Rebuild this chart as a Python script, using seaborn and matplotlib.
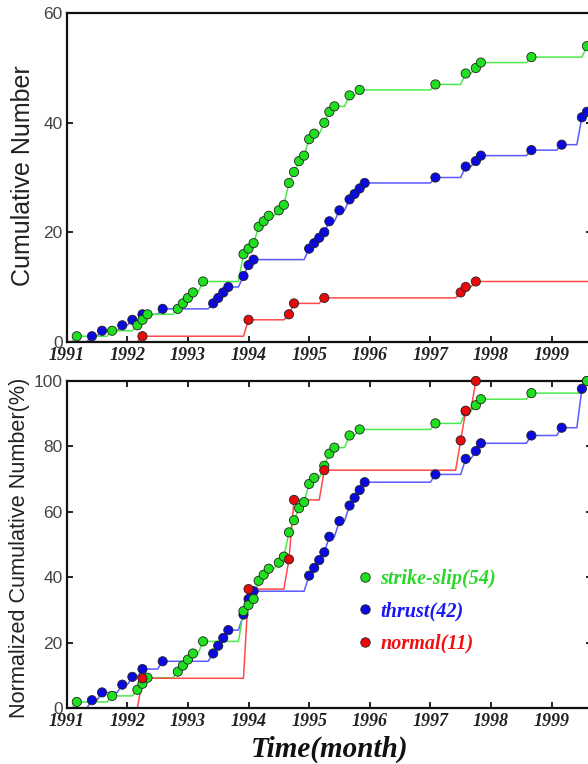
import numpy as np
import pandas as pd
import matplotlib
matplotlib.use('Agg')
import matplotlib.pyplot as plt
import seaborn as sns
from matplotlib.lines import Line2D

# months counted from Jan 1991 (0 = 1991.0) where the cumulative count steps up
SS_MONTHS = [2, 9, 14, 15, 16, 22, 23, 24, 25, 27, 35, 36, 37, 38, 39, 40, 42, 43,
             44, 45, 46, 47, 48, 49, 51, 52, 53, 56, 58, 73, 79, 81, 82, 92, 103]
SS_COUNTS = [1, 2, 3, 4, 5, 6, 7, 8, 9, 11, 16, 17, 18, 21, 22, 23, 24, 25,
             29, 31, 33, 34, 37, 38, 40, 42, 43, 45, 46, 47, 49, 50, 51, 52, 54]

TH_MONTHS = [5, 7, 11, 13, 15, 19, 29, 30, 31, 32, 35, 36, 37, 48, 49, 50, 51, 52,
             54, 56, 57, 58, 59, 73, 79, 81, 82, 92, 98, 102, 103]
TH_COUNTS = [1, 2, 3, 4, 5, 6, 7, 8, 9, 10, 12, 14, 15, 17, 18, 19, 20, 22,
             24, 26, 27, 28, 29, 30, 32, 33, 34, 35, 36, 41, 42]

NO_MONTHS = [15, 36, 44, 45, 51, 78, 79, 81]
NO_COUNTS = [1, 4, 5, 7, 8, 9, 10, 11]

TYPES = ['thrust', 'strike-slip', 'normal']
LEGEND_ORDER = ['strike-slip', 'thrust', 'normal']
MARKER_COLORS = {'strike-slip': '#1fe01f', 'thrust': '#0a0ae0', 'normal': '#e80a0a'}
LINE_COLORS = {'strike-slip': '#4de84d', 'thrust': '#5a5aff', 'normal': '#ff4a4a'}
TEXT_COLORS = {'strike-slip': '#2ad82a', 'thrust': '#1818f0', 'normal': '#f01010'}

YEARS = list(range(1991, 2000))
N_GRID = 105  # monthly grid, Jan 1991 .. Sep 1999

events = {
    'strike-slip': (SS_MONTHS, SS_COUNTS),
    'thrust': (TH_MONTHS, TH_COUNTS),
    'normal': (NO_MONTHS, NO_COUNTS),
}

# build monthly cumulative curves and the marked points
line_rows, pt_rows = [], []
grid = np.arange(N_GRID)
for t in TYPES:
    months, counts = events[t]
    total = counts[-1]
    idx = np.searchsorted(months, grid, side='right')
    cum = np.concatenate([[0], counts])[idx]
    for m, c in zip(grid, cum):
        line_rows.append({'year': 1991 + m / 12, 'n': c, 'pct': 100 * c / total, 'type': t})
    for m, c in zip(months, counts):
        pt_rows.append({'year': 1991 + m / 12, 'n': c, 'pct': 100 * c / total, 'type': t})
lines = pd.DataFrame(line_rows)
pts = pd.DataFrame(pt_rows)
totals = {t: events[t][1][-1] for t in TYPES}

sns.set_theme(style='ticks')
plt.rcParams['font.family'] = ['Liberation Sans', 'DejaVu Sans']

fig = plt.figure(figsize=(5.88, 7.64), dpi=100)
W, H = 588, 764
left_px, right_px = 66.7, 592
ax1 = fig.add_axes([left_px / W, 1 - 341.7 / H, (right_px - left_px) / W, 328.4 / H])
ax2 = fig.add_axes([left_px / W, 1 - 708 / H, (right_px - left_px) / W, 327 / H])

serif_bi = dict(family=['Liberation Serif', 'DejaVu Serif'], weight='bold', style='italic')

for ax, ycol, ymax, ystep in [(ax1, 'n', 60, 20), (ax2, 'pct', 100, 20)]:
    sns.lineplot(data=lines, x='year', y=ycol, hue='type', hue_order=TYPES,
                 palette=LINE_COLORS, estimator=None, linewidth=1.1,
                 legend=False, ax=ax)
    sns.scatterplot(data=pts, x='year', y=ycol, hue='type', hue_order=TYPES,
                    palette=MARKER_COLORS, s=44, edgecolor='#222222',
                    linewidth=0.6, legend=False, ax=ax, zorder=4, clip_on=False)
    ax.set_xlim(1991, 1991 + (N_GRID - 1) / 12)
    ax.set_ylim(0, ymax)
    ax.set_xticks(YEARS)
    ax.set_xticklabels([str(y) for y in YEARS], fontsize=13, color='#222222', **serif_bi)
    ax.set_yticks(range(0, ymax + 1, ystep))
    ax.tick_params(axis='y', labelsize=12.5, labelcolor='#444444', pad=3)
    ax.tick_params(axis='x', pad=3.5)
    ax.tick_params(direction='in', length=4.5, width=1.3, right=True, color='#111111')
    for sp in ax.spines.values():
        sp.set_linewidth(1.6)
        sp.set_color('#111111')
    ax.set_xlabel('')

ax2.tick_params(top=True)

ax1.set_ylabel('Cumulative Number', fontsize=18, color='#222222')
ax1.yaxis.set_label_coords(-0.060, 0.505)
ax2.set_ylabel('Normalized Cumulative Number(%)', fontsize=15.6, color='#222222')
ax2.yaxis.set_label_coords(-0.069, 0.49)
ax2.set_xlabel('Time(month)', fontsize=21, color='#111111', labelpad=4, **serif_bi)

# legend with coloured labels
handles = [Line2D([], [], linestyle='none', marker='o', markersize=6.8,
                  markerfacecolor=MARKER_COLORS[t], markeredgecolor='#222222',
                  markeredgewidth=0.6) for t in LEGEND_ORDER]
labels = [f'{t}({totals[t]})' for t in LEGEND_ORDER]
leg = ax2.legend(handles, labels, loc='center left', bbox_to_anchor=(0.549, 0.295),
                 frameon=False, handlelength=1.0, handletextpad=0.25,
                 borderpad=0, borderaxespad=0, labelspacing=0.6,
                 prop=dict(size=14.5, **serif_bi))
for txt, t in zip(leg.get_texts(), LEGEND_ORDER):
    txt.set_color(TEXT_COLORS[t])

fig.savefig('out.png', dpi=100)
